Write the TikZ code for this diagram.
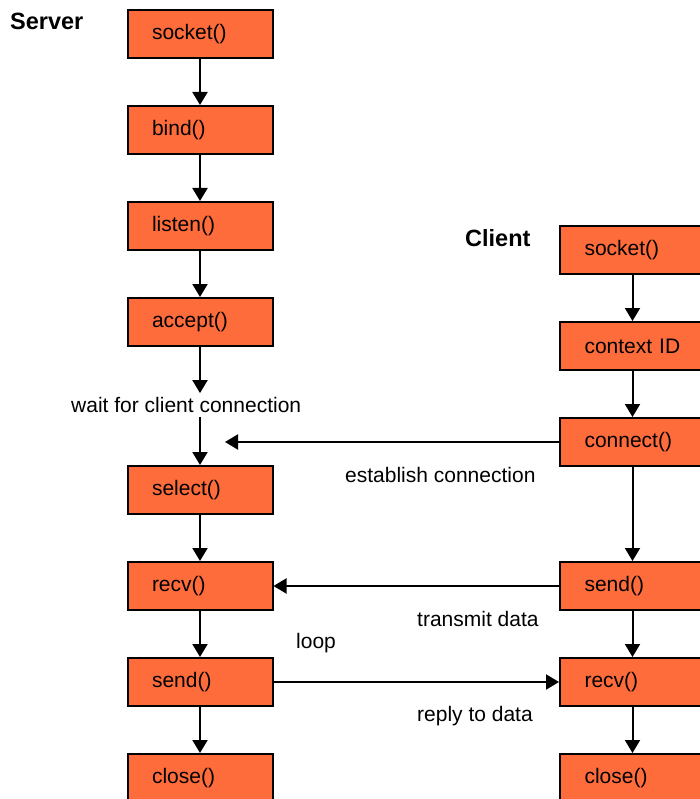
\documentclass[tikz,border=0pt]{standalone}
\usepackage{fontspec}
\setmainfont{Liberation Sans}
\usetikzlibrary{arrows.meta}
\definecolor{boxorange}{RGB}{255,108,60}
\begin{document}
\begin{tikzpicture}[x=1pt, y=-1pt,
		font=\fontsize{21}{25}\selectfont,
		box/.style={draw, line width=2pt, fill=boxorange, minimum height=48pt,
			text width=96pt, inner xsep=24.5pt, inner ysep=0pt, align=left},
		flow/.style={line width=2pt, -{Triangle[width=15pt, length=13pt]}},
		note/.style={anchor=west, inner sep=0pt},
		side/.style={note, font=\fontsize{23.5}{27}\selectfont\bfseries}]
			% page
			\useasboundingbox (0,0) rectangle (700,799);
			\clip (0,0) rectangle (700,799);
	
			% server side
			\node[side] (server) at (10,21) {Server};
			\node[box] (ssocket) at (200,34) {socket()};
			\node[box] (sbind) at (200,130) {bind()};
			\node[box] (slisten) at (200,226) {listen()};
			\node[box] (saccept) at (200,322) {accept()};
			\node[note, inner ysep=4pt] (wait) at (71,405) {wait for client connection};
			\node[box] (sselect) at (200,490) {select()};
			\node[box] (srecv) at (200,586) {recv()};
			\node[box] (ssend) at (200,682) {send()};
			\node[box] (sclose) at (200,778) {close()};
	
			% client side
			\node[side] (client) at (465,238) {Client};
			\node[box] (csocket) at (632.5,250) {socket()};
			\node[box] (ccontext) at (632.5,346) {context ID};
			\node[box] (cconnect) at (632.5,442) {connect()};
			\node[box] (csend) at (632.5,586) {send()};
			\node[box] (crecv) at (632.5,682) {recv()};
			\node[box] (cclose) at (632.5,778) {close()};
	
			% labels
			\node[note] (establish) at (345,475) {establish connection};
			\node[note] (transmit) at (417,619) {transmit data};
			\node[note] (loop) at (296,643) {loop};
			\node[note] (reply) at (417,716) {reply to data};
	
			% server arrows
			\draw[flow] (ssocket) -- (sbind);
			\draw[flow] (sbind) -- (slisten);
			\draw[flow] (slisten) -- (saccept);
			\draw[flow] (saccept) -- (saccept |- wait.north);
			\draw[flow] (saccept |- wait.south) -- (sselect);
			\draw[flow] (sselect) -- (srecv);
			\draw[flow] (srecv) -- (ssend);
			\draw[flow] (ssend) -- (sclose);
	
			% client arrows
			\draw[flow] (csocket) -- (ccontext);
			\draw[flow] (ccontext) -- (cconnect);
			\draw[flow] (cconnect) -- (csend);
			\draw[flow] (csend) -- (crecv);
			\draw[flow] (crecv) -- (cclose);
	
			% between the two
			\coordinate (meet) at (225,442);
			\draw[flow] (cconnect) -- (meet);
			\draw[flow] (csend) -- (srecv);
			\draw[flow] (ssend) -- (crecv);
		\end{tikzpicture}
\end{document}
